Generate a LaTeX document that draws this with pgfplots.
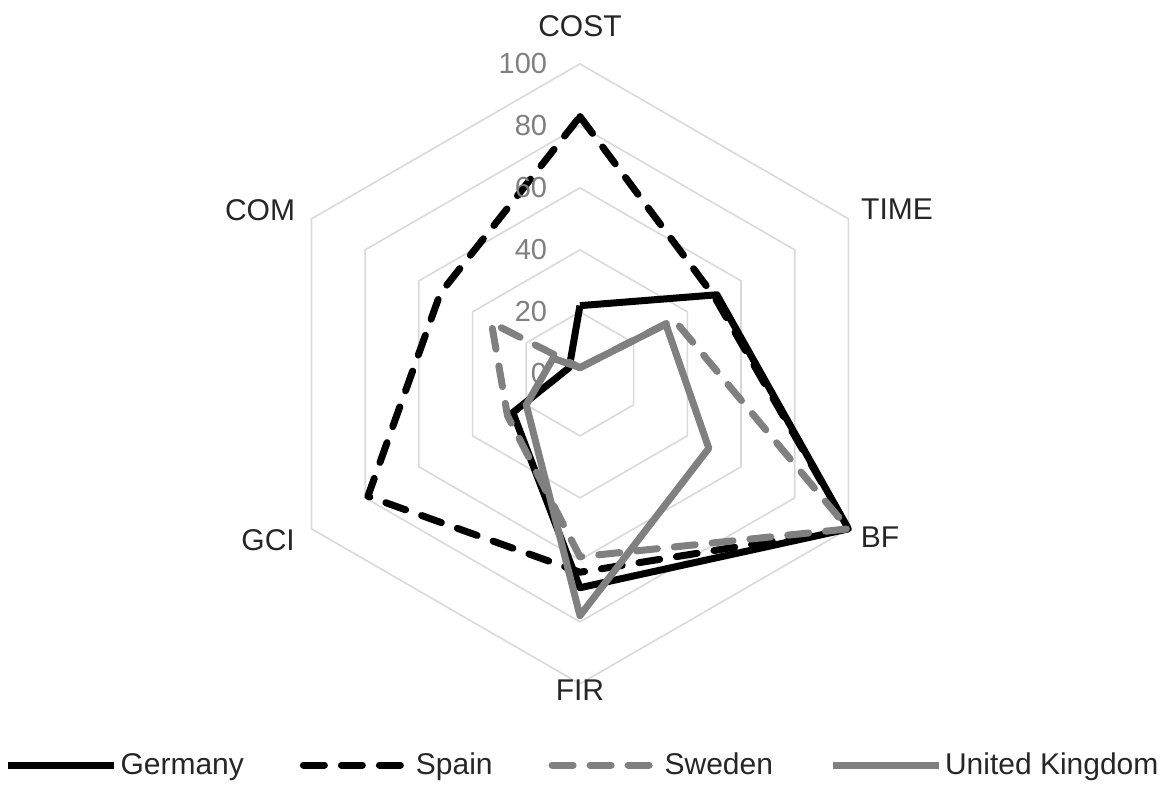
\documentclass[border=0pt]{standalone}
\usepackage{pgfplots}
\pgfplotsset{compat=1.18}
\usepackage{fontspec}
\setmainfont{Liberation Sans}
\definecolor{gridgray}{HTML}{D9D9D9}
\definecolor{ukgray}{HTML}{808080}
\definecolor{ticktext}{HTML}{7F7F7F}
\definecolor{labeltext}{HTML}{262626}

% radar data: angle (deg), value; order COST, TIME, BF, FIR, GCI, COM
\begin{document}
\begin{tikzpicture}
\begin{axis}[
    scale only axis,
    width=581.5pt, height=398.5pt,
    xmin=-187.1, xmax=188.1,
    ymin=-136.5, ymax=120.6,
    hide axis,
    clip=false,
    font=\fontsize{15}{18}\selectfont,
    legend columns=4,
    legend style={draw=none, fill=none, at={(rel axis cs:0.5,0.04)}, anchor=center,
        font=\fontsize{15}{18}\selectfont\color{labeltext},
        nodes={inner sep=0pt},
        /tikz/every odd column/.append style={column sep=1.5pt},
        /tikz/every even column/.append style={column sep=28pt},
        inner sep=0pt},
    legend cell align=left,
    legend image code/.code={\draw[#1] (0pt,0pt) -- (53pt,0pt);},
    every axis plot/.append style={line join=round},
]
\path (rel axis cs:0,0) rectangle (rel axis cs:1,1);

% hexagonal grid rings
\pgfplotsinvokeforeach{20,40,60,80,100}{
  \addplot[gridgray, line width=0.8pt, data cs=polar, forget plot] coordinates {
    (90,#1) (30,#1) (-30,#1) (-90,#1) (-150,#1) (150,#1) (90,#1)};
}

% series
\addplot[black, line width=3.5pt, data cs=polar] coordinates {
    (90,22) (30,51) (-30,100) (-90,69) (-150,25) (150,4) (90,22)};
\addlegendentry{Germany}
\addplot[black, line width=3.5pt, dash pattern=on 10.5pt off 8.5pt, line cap=round, data cs=polar] coordinates {
    (90,83) (30,50) (-30,100) (-90,64) (-150,79) (150,52) (90,83)};
\addlegendentry{Spain}
\addplot[ukgray, line width=3.5pt, dash pattern=on 10.5pt off 8.5pt, line cap=round, data cs=polar] coordinates {
    (90,2) (30,35) (-30,100) (-90,59) (-150,27) (150,33) (90,2)};
\addlegendentry{Sweden}
\addplot[ukgray, line width=3.5pt, data cs=polar] coordinates {
    (90,2) (30,32) (-30,48) (-90,78) (-150,20) (150,10) (90,2)};
\addlegendentry{United Kingdom}

% radial value labels
\pgfplotsinvokeforeach{0,20,40,60,80,100}{
  \node[anchor=east, text=ticktext, inner sep=0pt, font=\fontsize{14.5}{17}\selectfont] at (axis cs:-10.5,#1) {#1};
}

% category labels
\node[text=labeltext] at (axis cs:0,112) {COST};
\node[text=labeltext] at (axis cs:102.3,53.2) {TIME};
\node[text=labeltext] at (axis cs:96.8,-52.6) {BF};
\node[text=labeltext] at (axis cs:0,-102) {FIR};
\node[text=labeltext] at (axis cs:-100.6,-53.5) {GCI};
\node[text=labeltext] at (axis cs:-103.2,52.9) {COM};
\end{axis}
\end{tikzpicture}
\end{document}
